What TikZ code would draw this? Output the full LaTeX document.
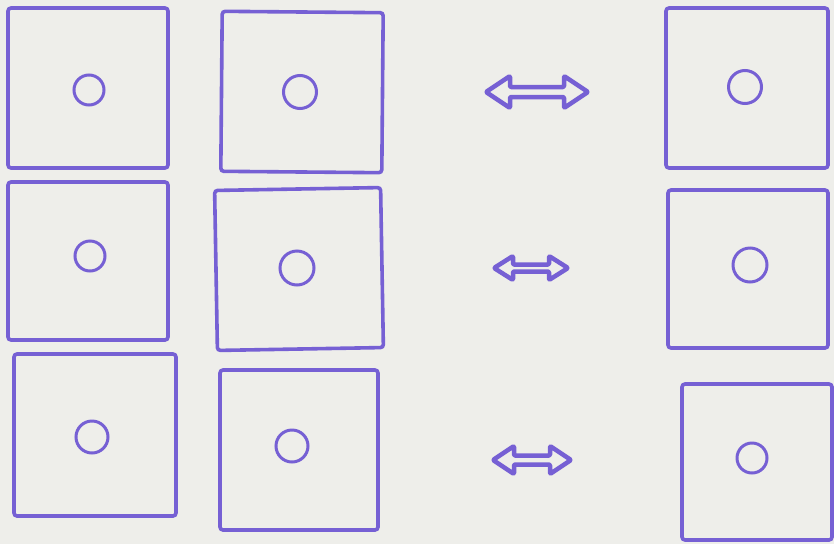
\documentclass[tikz,border=0pt]{standalone}
\definecolor{ink}{RGB}{118,96,212}
\definecolor{paper}{RGB}{238,238,234}
\newcommand\dblarrowat[5]{% center, L, h, H, s
  \draw[arrowline] ($(#1)+(-#2,0)$) -- ++(#3,#4) -- ++(0,-#4+#5) -- ++(2*#2-2*#3,0) -- ++(0,#4-#5)
    -- ($(#1)+(#2,0)$) -- ++(-#3,-#4) -- ++(0,#4-#5) -- ++(-2*#2+2*#3,0) -- ++(0,-#4+#5) -- cycle;}
\usetikzlibrary{calc}
\begin{document}
\begin{tikzpicture}[x=1pt,y=-1pt,
  box/.style={draw=ink,line width=3.6pt,rounded corners=3pt,inner sep=0pt},
  ring/.style={draw=ink,line width=3pt,circle,inner sep=0pt},
  arrowline/.style={draw=ink,line width=4.5pt,line join=round,rounded corners=1pt}]
\fill[paper] (0,0) rectangle (834,544);
\useasboundingbox (0,0) rectangle (834,544);
% row 1
\node[box,minimum width=160pt,minimum height=160pt] (a1) at (88,88) {};
\node[box,minimum width=161pt,minimum height=160pt,rotate=-0.5] (b1) at (302,92) {};
\node[box,minimum width=162pt,minimum height=160pt] (c1) at (747,88) {};
\node[ring,minimum size=30pt] (ca1) at (89,90) {};
\node[ring,minimum size=33pt] (cb1) at (300,92) {};
\node[ring,minimum size=33pt] (cc1) at (745,87) {};
% row 2
\node[box,minimum width=160pt,minimum height=158pt] (a2) at (88,261) {};
\node[box,minimum width=166pt,minimum height=160pt,rotate=1] (b2) at (299,269) {};
\node[box,minimum width=160pt,minimum height=158pt] (c2) at (748,269) {};
\node[ring,minimum size=30pt] (ca2) at (90,256) {};
\node[ring,minimum size=34pt] (cb2) at (297,268) {};
\node[ring,minimum size=34pt] (cc2) at (750,265) {};
% row 3
\node[box,minimum width=162pt,minimum height=162pt] (a3) at (95,435) {};
\node[box,minimum width=158pt,minimum height=160pt] (b3) at (299,450) {};
\node[box,minimum width=150pt,minimum height=156pt] (c3) at (757,462) {};
\node[ring,minimum size=32pt] (ca3) at (92,437) {};
\node[ring,minimum size=32pt] (cb3) at (292,446) {};
\node[ring,minimum size=30pt] (cc3) at (752,458) {};
% arrows
\coordinate (r1) at (537,92);
\coordinate (r2) at (531,268);
\coordinate (r3) at (532,460);
\dblarrowat{r1}{51}{24}{16}{5}
\dblarrowat{r2}{37}{19}{12}{3.5}
\dblarrowat{r3}{39}{21}{14}{4.5}
\end{tikzpicture}
\end{document}
